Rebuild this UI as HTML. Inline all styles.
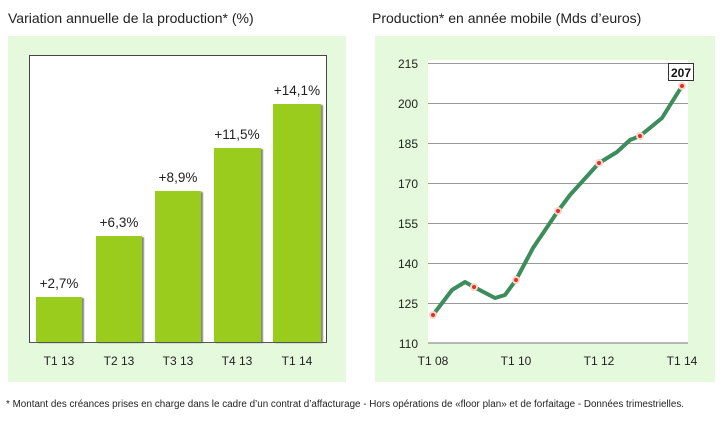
<!DOCTYPE html>
<html><head><meta charset="utf-8"><style>
html,body{margin:0;padding:0;background:#fff;width:726px;height:424px;overflow:hidden}
svg{display:block;font-family:"Liberation Sans",Arial,sans-serif}
</style></head><body>
<svg width="726" height="424" viewBox="0 0 726 424">
<defs><filter id="sh"><feDropShadow dx="2" dy="1" stdDeviation="0.5" flood-color="#555" flood-opacity="0.7"/></filter></defs>
<text x="8" y="23" font-size="14" fill="#222">Variation annuelle de la production* (%)</text>
<text x="372" y="23" font-size="14" fill="#222">Production* en année mobile (Mds d’euros)</text>
<rect x="8" y="36" width="338" height="346" fill="#e5f9dc"/>
<rect x="375" y="36" width="340" height="346" fill="#e5f9dc"/>
<!-- left plot -->
<rect x="29.5" y="55.5" width="297" height="287" fill="#fff" stroke="#444" stroke-width="1"/>
<g fill="#99cc1a" filter="url(#sh)">
<rect x="36" y="297" width="46" height="45"/>
<rect x="96" y="236" width="46" height="106"/>
<rect x="155" y="191" width="46" height="151"/>
<rect x="214" y="148" width="47" height="194"/>
<rect x="273" y="104" width="48" height="238"/>
</g>
<line x1="29" y1="342.5" x2="327" y2="342.5" stroke="#555"/>
<g font-size="13.5" fill="#222" text-anchor="middle">
<text x="59" y="288">+2,7%</text>
<text x="119" y="227">+6,3%</text>
<text x="178" y="182">+8,9%</text>
<text x="237" y="139">+11,5%</text>
<text x="297" y="95">+14,1%</text>
</g>
<g font-size="12" fill="#222" text-anchor="middle">
<text x="59" y="365">T1 13</text><text x="119" y="365">T2 13</text><text x="178" y="365">T3 13</text><text x="237" y="365">T4 13</text><text x="297" y="365">T1 14</text>
</g>
<!-- right plot -->
<rect x="428" y="60" width="260" height="283" fill="#fff"/>
<g stroke="#999" stroke-width="1">
<line x1="428" y1="63.5" x2="688" y2="63.5"/><line x1="428" y1="103.5" x2="688" y2="103.5"/>
<line x1="428" y1="143.5" x2="688" y2="143.5"/><line x1="428" y1="183.5" x2="688" y2="183.5"/>
<line x1="428" y1="223.5" x2="688" y2="223.5"/><line x1="428" y1="263.5" x2="688" y2="263.5"/>
<line x1="428" y1="303.5" x2="688" y2="303.5"/><line x1="428" y1="343" x2="688" y2="343" stroke="#777"/>
</g>
<g font-size="12" fill="#222" text-anchor="end">
<text x="418" y="68">215</text><text x="418" y="108">200</text><text x="418" y="148">185</text><text x="418" y="188">170</text>
<text x="418" y="228">155</text><text x="418" y="268">140</text><text x="418" y="308">125</text><text x="418" y="348">110</text>
</g>
<g font-size="12" fill="#222" text-anchor="middle">
<text x="433" y="365">T1 08</text><text x="516" y="365">T1 10</text><text x="599" y="365">T1 12</text><text x="682" y="365">T1 14</text>
</g>
<polyline fill="none" stroke="#3d8c5c" stroke-width="4" stroke-linejoin="round" stroke-linecap="round"
points="433,315 452,290 465,282 474,287 495,298 505,295 516,280 533,248 558,211 570,195 599,163 617,152 630,140 640,136 662,118 682,86"/>
<g fill="#d9332a" stroke="#fbd5c8" stroke-width="2">
<circle cx="433" cy="315" r="3"/><circle cx="474" cy="287" r="3"/><circle cx="516" cy="280" r="3"/>
<circle cx="558" cy="211" r="3"/><circle cx="599" cy="163" r="3"/><circle cx="640" cy="136" r="3"/><circle cx="682" cy="86" r="3"/>
</g>
<rect x="668.5" y="63.5" width="25" height="17" fill="#fff" stroke="#333"/>
<text x="681" y="77" font-size="12" font-weight="bold" text-anchor="middle" fill="#111">207</text>
<text x="6" y="407" font-size="10" fill="#222" textLength="678" lengthAdjust="spacingAndGlyphs">* Montant des créances prises en charge dans le cadre d’un contrat d’affacturage - Hors opérations de «floor plan» et de forfaitage - Données trimestrielles.</text>
</svg>
</body></html>
